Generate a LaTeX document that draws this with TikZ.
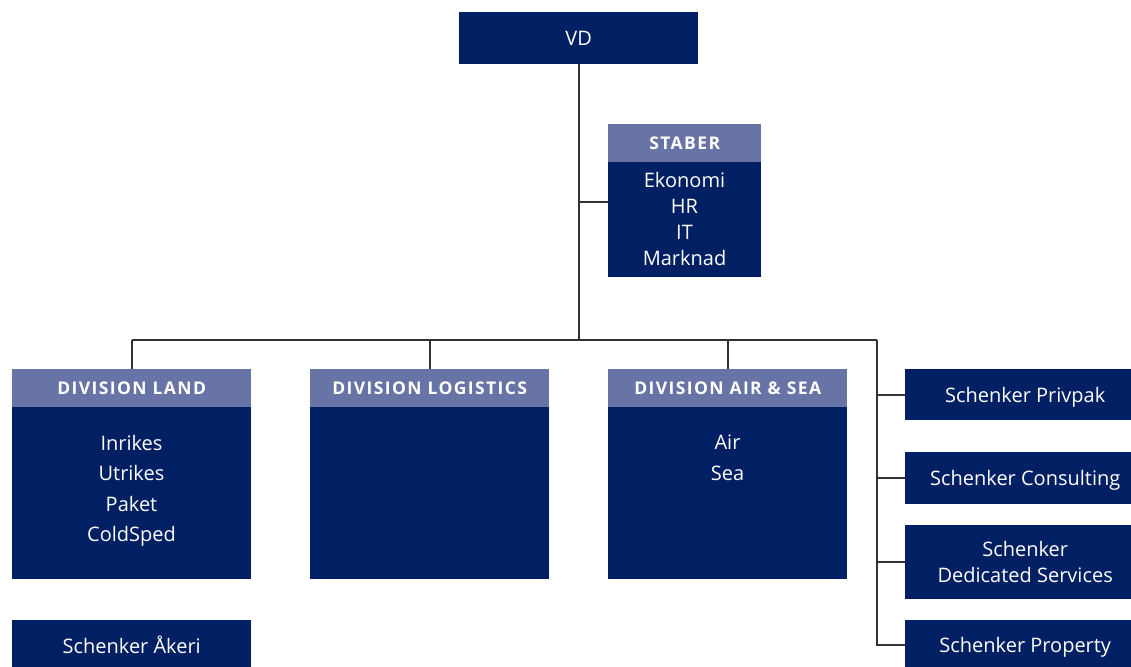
\documentclass[tikz,border=0pt]{standalone}
\usepackage{fontspec}
\setmainfont{Open Sans}
\newfontfamily\hdrfont[LetterSpace=8]{Open Sans}
\definecolor{navy}{HTML}{002063}
\definecolor{lightnavy}{HTML}{6873A6}
\definecolor{linec}{HTML}{333333}
\tikzset{
  box/.style={fill=navy, draw=none, text=white, anchor=north west, inner sep=0pt,
    font=\fontsize{20}{26}\selectfont, align=center, text depth=0pt},
  hdr/.style={fill=lightnavy, draw=none, text=white, anchor=north west, inner sep=0pt,
    font=\hdrfont\fontsize{17.5}{20}\selectfont\bfseries},
  txt/.style={text=white, anchor=north, inner sep=0pt, align=center},
  conn/.style={draw=linec, line width=1.8pt}
}
\begin{document}
\begin{tikzpicture}[x=1pt,y=-1pt]
\useasboundingbox (0,0) rectangle (1131,666);
% VD
\node[box, minimum width=239pt, minimum height=52pt] (vd) at (459,12) {VD};
% Staber
\node[hdr, minimum width=153pt, minimum height=38pt] (staberh) at (608,124) {STABER};
\node[box, minimum width=153pt, minimum height=115pt] (staber) at (608,162) {};
\node[txt, font=\fontsize{20}{26}\selectfont] (stabert) at (684.5,172) {Ekonomi\\HR\\IT\\Marknad};
% Divisions
\node[hdr, minimum width=239pt, minimum height=38pt] (landh) at (12,369) {DIVISION LAND};
\node[box, minimum width=239pt, minimum height=172pt] (land) at (12,407) {};
\node[txt, font=\fontsize{20}{30.5}\selectfont] (landt) at (131.5,435) {Inrikes\\Utrikes\\Paket\\ColdSped};
\node[hdr, minimum width=239pt, minimum height=38pt] (logh) at (310,369) {DIVISION LOGISTICS};
\node[box, minimum width=239pt, minimum height=172pt] (log) at (310,407) {};
\node[hdr, minimum width=239pt, minimum height=38pt] (airh) at (608,369) {DIVISION AIR \& SEA};
\node[box, minimum width=239pt, minimum height=172pt] (air) at (608,407) {};
\node[txt, font=\fontsize{20}{30.5}\selectfont] (airt) at (727.5,435) {Air\\Sea};
% Åkeri
\node[box, minimum width=239pt, minimum height=50pt] (akeri) at (12,620) {Schenker Åkeri};
% Right column
\node[box, minimum width=240pt, minimum height=51pt] (priv) at (905,369) {Schenker Privpak};
\node[box, minimum width=240pt, minimum height=52pt] (cons) at (905,452) {Schenker Consulting};
\node[box, minimum width=240pt, minimum height=74pt] (ded) at (905,525) {Schenker\\Dedicated Services};
\node[box, minimum width=240pt, minimum height=50pt] (prop) at (905,620) {Schenker Property};
% Connectors
\coordinate (j) at (579,340);
\coordinate (sj) at (579,202);
\coordinate (bl) at (132,340);
\coordinate (br) at (877,340);
\draw[conn] (vd.south -| j) -- (j);
\draw[conn] (sj) -- (sj -| staber.west);
\draw[conn] (bl) -- (br);
\draw[conn] (bl) -- (bl |- landh.north);
\draw[conn] (logh.north) -- (logh.north |- bl);
\draw[conn] (airh.north) -- (airh.north |- bl);
\draw[conn] (br) |- (prop.west);
\draw[conn] (priv.west -| br) -- (priv.west);
\draw[conn] (cons.west -| br) -- (cons.west);
\draw[conn] (ded.west -| br) -- (ded.west);
\end{tikzpicture}
\end{document}
